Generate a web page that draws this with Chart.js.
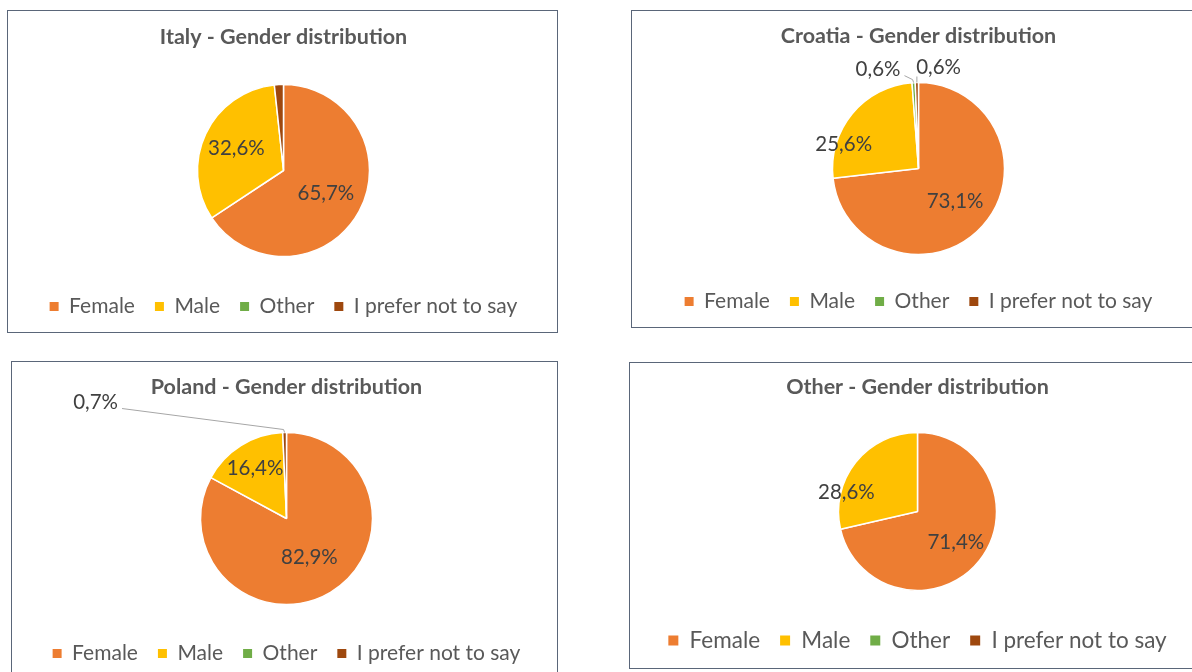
<!DOCTYPE html>
<html><head><meta charset="utf-8">
<script src="https://cdn.jsdelivr.net/npm/chart.js@4.4.0/dist/chart.umd.min.js"></script>
<style>
html,body{margin:0;padding:0;background:#fff;overflow:hidden;width:1192px;height:672px;position:relative;}
.box{position:absolute;border:1.5px solid #5a6679;box-sizing:border-box;}
canvas{position:absolute;}
</style></head><body>
<div id="stage"></div>
<script>
// ---- data ----
const categories = ['Female', 'Male', 'Other', 'I prefer not to say'];
const chartTitles = ['Italy - Gender distribution', 'Croatia - Gender distribution', 'Poland - Gender distribution', 'Other - Gender distribution'];
const italyValues = [65.7, 32.6, 0, 1.7];
const croatiaValues = [73.1, 25.6, 0.6, 0.6];
const polandValues = [82.9, 16.4, 0, 0.7];
const otherValues = [71.4, 28.6, 0, 0];
const sliceColors = ['#ED7D31', '#FFC000', '#70AD47', '#9E480E'];

// ---- layout / style ----
const FONT = 'Lato';
Chart.defaults.font.family = FONT;
const panels = [
  {values: italyValues, title: chartTitles[0], box: [7, 10, 551, 323], cx: 283, cy: 170, r: 86, titleY: 37, legendY: 306, legendFs: 21, labelFs: 20.5,
   factor: [0.56, 0.605], shift: [[0, 0], [0, 0]], outside: {}},
  {values: croatiaValues, title: chartTitles[1], box: [631, 10, 575, 318], cx: 918, cy: 168, r: 86, titleY: 36, legendY: 301, legendFs: 21, labelFs: 20.5,
   factor: [0.57, 0.6], shift: [[0, 0], [-35, 8.6]], outside: {2: [-35.6, -13], 3: [21.7, -15]}},
  {values: polandValues, title: chartTitles[2], box: [11, 361, 547, 320], cx: 286, cy: 518, r: 86, titleY: 387, legendY: 653, legendFs: 21, labelFs: 20.5,
   factor: [0.52, 0.69], shift: [[0, 0], [0, 0]], outside: {3: [-189, -30]}},
  {values: otherValues, title: chartTitles[3], box: [629, 362, 575, 307], cx: 917, cy: 511, r: 79, titleY: 387, legendY: 640, legendFs: 22.5, labelFs: 20.5,
   factor: [0.62, 0.6], shift: [[0, 0], [-34, 10.5]], outside: {}}
];
const TITLE_FS = 21.5, LEGEND_PAD = 20;

const pieLabels = {
  id: 'pieLabels',
  afterDatasetsDraw(chart, args, opts) {
    const ctx = chart.ctx;
    const meta = chart.getDatasetMeta(0);
    const vals = chart.data.datasets[0].data;
    ctx.save();
    ctx.font = opts.fs + 'px ' + FONT;
    ctx.fillStyle = '#404040';
    ctx.textAlign = 'center';
    ctx.textBaseline = 'middle';
    meta.data.forEach((arc, i) => {
      const v = vals[i];
      if (!v) return;
      const p = arc.getProps(['x', 'y', 'startAngle', 'endAngle', 'outerRadius'], true);
      const mid = (p.startAngle + p.endAngle) / 2;
      const txt = v.toFixed(1).replace('.', ',') + '%';
      const out = opts.outside[i];
      if (out) {
        const ax = p.x + Math.cos(mid) * p.outerRadius, ay = p.y + Math.sin(mid) * p.outerRadius;
        const lx = ax + out[0], ly = ay + out[1];
        const w = ctx.measureText(txt).width;
        ctx.strokeStyle = '#A6A6A6';
        ctx.lineWidth = 1;
        ctx.beginPath();
        ctx.moveTo(ax, ay);
        if (lx + w / 2 < ax) {
          ctx.lineTo(ax - 1, ay - 3);
          ctx.lineTo(lx + w / 2 + 4, ly + 6);
        } else {
          ctx.lineTo(ax, ly + 9);
        }
        ctx.stroke();
        ctx.fillText(txt, lx, ly);
      } else if (opts.factor[i] !== undefined) {
        const f = opts.factor[i], s = opts.shift[i] || [0, 0];
        ctx.fillText(txt, p.x + Math.cos(mid) * p.outerRadius * f + s[0], p.y + Math.sin(mid) * p.outerRadius * f + s[1]);
      }
    });
    ctx.restore();
  }
};

const stage = document.getElementById('stage');
panels.forEach((pn, k) => {
  const [bx, by, bw, bh] = pn.box;
  const box = document.createElement('div');
  box.className = 'box';
  Object.assign(box.style, {left: bx + 'px', top: by + 'px', width: bw + 'px', height: bh + 'px'});
  stage.appendChild(box);

  const W = bw - 4, H = bh - 3;
  const ctop = by + 1.5, cbot = ctop + H;
  const cv = document.createElement('canvas');
  cv.width = W; cv.height = H;
  Object.assign(cv.style, {left: (pn.cx - W / 2) + 'px', top: ctop + 'px', width: W + 'px', height: H + 'px'});
  stage.appendChild(cv);

  const titleLH = TITLE_FS * 1.2;
  const ptTop = pn.titleY - ctop - titleLH / 2;
  const padB = cbot - pn.legendY - 10 - pn.legendFs / 2;
  const legendTop = cbot - padB - (pn.legendFs + LEGEND_PAD + 10);
  const pb = 2 * pn.cy - legendTop - (ctop + ptTop + titleLH);

  new Chart(cv, {
    type: 'pie',
    data: {
      labels: categories,
      datasets: [{data: pn.values, backgroundColor: sliceColors, borderColor: '#ffffff', borderWidth: 1.5, radius: pn.r}]
    },
    options: {
      responsive: false,
      animation: false,
      devicePixelRatio: 1,
      events: [],
      layout: {padding: {top: 0, left: 0, right: 0, bottom: padB}},
      plugins: {
        tooltip: {enabled: false},
        title: {display: true, text: pn.title, color: '#595959', font: {size: TITLE_FS, weight: 'bold', family: FONT}, padding: {top: ptTop, bottom: pb}},
        legend: {
          position: 'bottom',
          labels: {
            color: '#595959', font: {size: pn.legendFs, family: FONT}, boxWidth: pn.legendFs > 21 ? 10 : 9, boxHeight: pn.legendFs > 21 ? 10 : 9, padding: LEGEND_PAD,
            generateLabels: (chart) => Chart.overrides.pie.plugins.legend.labels.generateLabels(chart).map(l => Object.assign(l, {lineWidth: 0, strokeStyle: 'rgba(0,0,0,0)', hidden: false}))
          }
        },
        pieLabels: {fs: pn.labelFs, factor: pn.factor, shift: pn.shift, outside: pn.outside}
      }
    },
    plugins: [pieLabels]
  });
});
</script>
</body></html>
